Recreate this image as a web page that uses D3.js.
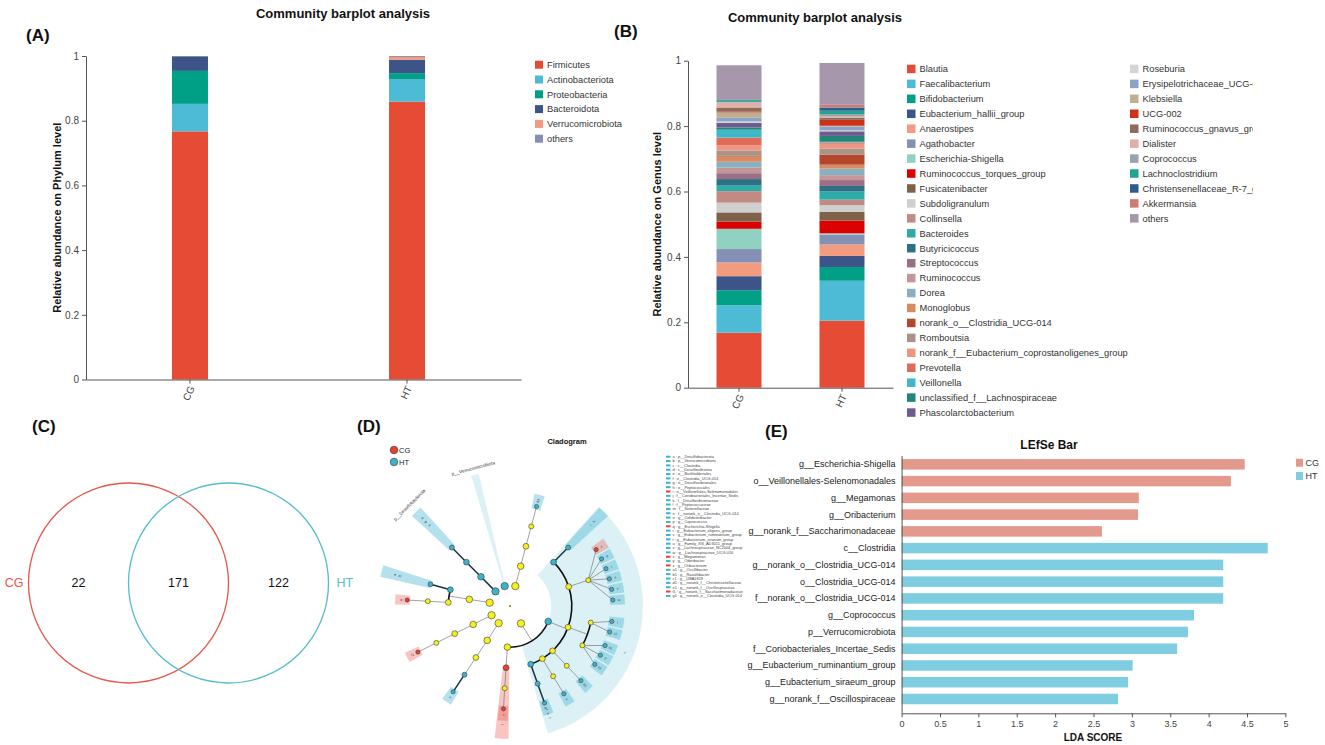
<!DOCTYPE html>
<html>
<head>
<meta charset="utf-8">
<script src="https://cdn.jsdelivr.net/npm/d3@7"></script>
<style>
  body { margin: 0; background: #fff; }
  svg { display: block; font-family: Arial, "Liberation Sans", sans-serif; }
</style>
</head>
<body>
<svg id="fig" width="1325" height="745"></svg>
<script>
// ---- data ----
const groups = ['CG', 'HT']
const yTicks = [0, 0.2, 0.4, 0.6, 0.8, 1]

// (A) phylum level
const phyla = ['Firmicutes', 'Actinobacteriota', 'Proteobacteria', 'Bacteroidota', 'Verrucomicrobiota', 'others']
const phylumCG = [0.767, 0.085, 0.102, 0.045, 0.0003, 0.0007]
const phylumHT = [0.859, 0.070, 0.018, 0.041, 0.009, 0.003]
const phylumColors = ['#e64b35', '#4dbbd5', '#00a087', '#3c5488', '#f39b7f', '#8491b4']

// (B) genus level
const genera = ['Blautia', 'Faecalibacterium', 'Bifidobacterium', 'Eubacterium_hallii_group', 'Anaerostipes',
  'Agathobacter', 'Escherichia-Shigella', 'Ruminococcus_torques_group', 'Fusicatenibacter', 'Subdoligranulum',
  'Collinsella', 'Bacteroides', 'Butyricicoccus', 'Streptococcus', 'Ruminococcus', 'Dorea', 'Monoglobus',
  'norank_o__Clostridia_UCG-014', 'Romboutsia', 'norank_f__Eubacterium_coprostanoligenes_group', 'Prevotella',
  'Veillonella', 'unclassified_f__Lachnospiraceae', 'Phascolarctobacterium', 'Roseburia',
  'Erysipelotrichaceae_UCG-003', 'Klebsiella', 'UCG-002', 'Ruminococcus_gnavus_group', 'Dialister',
  'Coprococcus', 'Lachnoclostridium', 'Christensenellaceae_R-7_group', 'Akkermansia', 'others']
const genusCG = [0.168, 0.084, 0.046, 0.043, 0.042, 0.041, 0.062, 0.022, 0.028, 0.030, 0.035, 0.017, 0.020,
  0.018, 0.017, 0.018, 0.016, 0.002, 0.016, 0.016, 0.024, 0.024, 0.007, 0.014, 0.004, 0.012, 0.016, 0.003,
  0.012, 0.015, 0.002, 0.005, 0.001, 0.000, 0.106]
const genusHT = [0.205, 0.122, 0.042, 0.034, 0.035, 0.030, 0.004, 0.039, 0.027, 0.020, 0.017, 0.025, 0.017,
  0.018, 0.015, 0.020, 0.012, 0.031, 0.018, 0.015, 0.004, 0.002, 0.018, 0.014, 0.003, 0.012, 0.002, 0.018,
  0.006, 0.004, 0.008, 0.010, 0.010, 0.008, 0.128]
const genusColors = ['#e64b35', '#4dbbd5', '#00a087', '#3c5488', '#f39b7f', '#8491b4', '#91d1c2', '#dc0000',
  '#7e6148', '#cfcfcf', '#c18a82', '#30aaa6', '#2b7286', '#9c6f85', '#c4969a', '#88b0c0', '#d98b5f',
  '#b5462e', '#a99488', '#ee9584', '#de6c58', '#3cb8c8', '#21857a', '#6e5a8e', '#d5d5d5', '#8ba3c4',
  '#bfae90', '#cc3217', '#8d6c5b', '#e3aea6', '#97a3ad', '#20a68f', '#2f5d87', '#d07b77', '#a697ab']

// (C) venn
const vennSets = ['CG', 'HT']
const vennOnly = [22, 122]
const vennShared = 171

// (D) cladogram: [taxon, parent, enriched group, key letter]
const cladeNodes = [
  ['root', '', 'none', ''],
  ['p__Actinobacteriota', 'root', 'none', ''],
  ['c__Coriobacteriia', 'p__Actinobacteriota', 'none', ''],
  ['o__Coriobacteriales', 'c__Coriobacteriia', 'none', ''],
  ['f__Eggerthellaceae', 'o__Coriobacteriales', 'none', ''],
  ['g__Raoultibacter', 'f__Eggerthellaceae', 'HT', 'b1'],
  ['p__Firmicutes', 'root', 'none', ''],
  ['c__Clostridia', 'p__Firmicutes', 'HT', 'c'],
  ['o__Peptococcales', 'c__Clostridia', 'HT', 'h'],
  ['f__Peptococcaceae', 'o__Peptococcales', 'HT', 'l'],
  ['o__Lachnospirales', 'c__Clostridia', 'none', ''],
  ['f__Lachnospiraceae', 'o__Lachnospirales', 'none', ''],
  ['g__Oribacterium', 'f__Lachnospiraceae', 'CG', 'z'],
  ['g__Coprococcus', 'f__Lachnospiraceae', 'HT', 'p'],
  ['g__Eubacterium_eligens_group', 'f__Lachnospiraceae', 'HT', 'r'],
  ['g__Eubacterium_ruminantium_group', 'f__Lachnospiraceae', 'HT', 's'],
  ['g__Lachnospiraceae_NC2004_group', 'f__Lachnospiraceae', 'HT', 'v'],
  ['g__Lachnospiraceae_UCG-010', 'f__Lachnospiraceae', 'HT', 'w'],
  ['o__Oscillospirales', 'c__Clostridia', 'none', ''],
  ['f__Ruminococcaceae', 'o__Oscillospirales', 'none', ''],
  ['g__Eubacterium_siraeum_group', 'f__Ruminococcaceae', 'HT', 't'],
  ['g__UBA1819', 'f__Ruminococcaceae', 'HT', 'c1'],
  ['f__Oscillospiraceae', 'o__Oscillospirales', 'none', ''],
  ['g__Oscillibacter', 'f__Oscillospiraceae', 'HT', 'a1'],
  ['g__Colidextribacter', 'f__Oscillospiraceae', 'HT', 'o'],
  ['g__norank_f__Oscillospiraceae', 'f__Oscillospiraceae', 'HT', 'e1'],
  ['o__Christensenellales', 'c__Clostridia', 'none', ''],
  ['f__Christensenellaceae', 'o__Christensenellales', 'none', ''],
  ['g__norank_f__Christensenellaceae', 'f__Christensenellaceae', 'HT', 'd1'],
  ['o__Peptostreptococcales-Tissierellales', 'c__Clostridia', 'none', ''],
  ['f__Anaerovoracaceae', 'o__Peptostreptococcales-Tissierellales', 'none', ''],
  ['g__Family_XIII_AD3011_group', 'f__Anaerovoracaceae', 'HT', 'u'],
  ['o__Clostridia_UCG-014', 'c__Clostridia', 'HT', 'f'],
  ['f__norank_o__Clostridia_UCG-014', 'o__Clostridia_UCG-014', 'HT', 'n'],
  ['g__norank_o__Clostridia_UCG-014', 'f__norank_o__Clostridia_UCG-014', 'HT', 'g1'],
  ['c__Negativicutes', 'p__Firmicutes', 'none', ''],
  ['o__Veillonellales-Selenomonadales', 'c__Negativicutes', 'CG', 'i'],
  ['f__Selenomonadaceae', 'o__Veillonellales-Selenomonadales', 'none', ''],
  ['g__Megamonas', 'f__Selenomonadaceae', 'CG', 'x'],
  ['p__Bacteroidota', 'root', 'none', ''],
  ['c__Bacteroidia', 'p__Bacteroidota', 'none', ''],
  ['o__Bacteroidales', 'c__Bacteroidia', 'none', ''],
  ['f__Marinifilaceae', 'o__Bacteroidales', 'HT', ''],
  ['g__Odoribacter', 'f__Marinifilaceae', 'HT', 'y'],
  ['p__Patescibacteria', 'root', 'none', ''],
  ['c__Saccharimonadia', 'p__Patescibacteria', 'none', ''],
  ['o__Saccharimonadales', 'c__Saccharimonadia', 'none', ''],
  ['f__Saccharimonadaceae', 'o__Saccharimonadales', 'none', ''],
  ['g__norank_f__Saccharimonadaceae', 'f__Saccharimonadaceae', 'CG', 'f1'],
  ['p__Proteobacteria', 'root', 'none', ''],
  ['c__Gammaproteobacteria', 'p__Proteobacteria', 'none', ''],
  ['o__Enterobacterales', 'c__Gammaproteobacteria', 'none', ''],
  ['f__Enterobacteriaceae', 'o__Enterobacterales', 'none', ''],
  ['g__Escherichia-Shigella', 'f__Enterobacteriaceae', 'CG', 'q'],
  ['o__Burkholderiales', 'c__Gammaproteobacteria', 'HT', 'e'],
  ['f__Sutterellaceae', 'o__Burkholderiales', 'HT', 'm'],
  ['p__Desulfobacterota', 'root', 'HT', 'a'],
  ['c__Desulfovibrionia', 'p__Desulfobacterota', 'HT', 'd'],
  ['o__Desulfovibrionales', 'c__Desulfovibrionia', 'HT', 'g'],
  ['f__Desulfovibrionaceae', 'o__Desulfovibrionales', 'HT', 'k'],
  ['p__Verrucomicrobiota', 'root', 'HT', 'b']
]
// key list printed beside the cladogram
const cladeKeyLetters = ['a', 'b', 'c', 'd', 'e', 'f', 'g', 'h', 'i', 'j', 'k', 'l', 'm', 'n', 'o', 'p', 'q',
  'r', 's', 't', 'u', 'v', 'w', 'x', 'y', 'z', 'a1', 'b1', 'c1', 'd1', 'e1', 'f1', 'g1']
const cladeKeyTaxa = ['p__Desulfobacterota', 'p__Verrucomicrobiota', 'c__Clostridia', 'c__Desulfovibrionia',
  'o__Burkholderiales', 'o__Clostridia_UCG-014', 'o__Desulfovibrionales', 'o__Peptococcales',
  'o__Veillonellales-Selenomonadales', 'f__Coriobacteriales_Incertae_Sedis', 'f__Desulfovibrionaceae',
  'f__Peptococcaceae', 'f__Sutterellaceae', 'f__norank_o__Clostridia_UCG-014', 'g__Colidextribacter',
  'g__Coprococcus', 'g__Escherichia-Shigella', 'g__Eubacterium_eligens_group', 'g__Eubacterium_ruminantium_group',
  'g__Eubacterium_siraeum_group', 'g__Family_XIII_AD3011_group', 'g__Lachnospiraceae_NC2004_group',
  'g__Lachnospiraceae_UCG-010', 'g__Megamonas', 'g__Odoribacter', 'g__Oribacterium', 'g__Oscillibacter',
  'g__Raoultibacter', 'g__UBA1819', 'g__norank_f__Christensenellaceae', 'g__norank_f__Oscillospiraceae',
  'g__norank_f__Saccharimonadaceae', 'g__norank_o__Clostridia_UCG-014']
const cladeKeyGroup = ['HT', 'HT', 'HT', 'HT', 'HT', 'HT', 'HT', 'HT', 'CG', 'HT', 'HT', 'HT', 'HT', 'HT', 'HT',
  'HT', 'CG', 'HT', 'HT', 'HT', 'HT', 'HT', 'HT', 'CG', 'HT', 'CG', 'HT', 'HT', 'HT', 'HT', 'HT', 'CG', 'HT']

// (E) LEfSe
const lefseTaxa = ['g__Escherichia-Shigella', 'o__Veillonellales-Selenomonadales', 'g__Megamonas',
  'g__Oribacterium', 'g__norank_f__Saccharimonadaceae', 'c__Clostridia', 'g__norank_o__Clostridia_UCG-014',
  'o__Clostridia_UCG-014', 'f__norank_o__Clostridia_UCG-014', 'g__Coprococcus', 'p__Verrucomicrobiota',
  'f__Coriobacteriales_Incertae_Sedis', 'g__Eubacterium_ruminantium_group', 'g__Eubacterium_siraeum_group',
  'g__norank_f__Oscillospiraceae']
const lefseLDA = [4.47, 4.29, 3.09, 3.08, 2.61, 4.77, 4.19, 4.19, 4.19, 3.81, 3.73, 3.59, 3.01, 2.95, 2.82]
const lefseGroup = ['CG', 'CG', 'CG', 'CG', 'CG', 'HT', 'HT', 'HT', 'HT', 'HT', 'HT', 'HT', 'HT', 'HT', 'HT']
const ldaTicks = [0, 0.5, 1, 1.5, 2, 2.5, 3, 3.5, 4, 4.5, 5]

// ---- helpers ----
const svg = d3.select('#fig')
const groupColor = { CG: '#e8412f', HT: '#3db2cd', none: '#f5f01e' }

function panelLetter(txt, x, y) {
  svg.append('text').attr('x', x).attr('y', y)
    .attr('font-size', 17).attr('font-weight', 'bold').attr('fill', '#111').text(txt)
}

function styleAxis(g, size) {
  g.attr('font-family', null).attr('font-size', null)
  g.selectAll('path,line').attr('stroke', '#555')
  g.selectAll('text').attr('fill', '#444').attr('font-size', size || 10)
}

function drawStack(g, names, byGroup, colors, x, y) {
  // table for d3.stack, one row per sample group
  const rows = groups.map((grp, gi) => {
    const row = { group: grp }
    names.forEach((n, i) => { row[n] = byGroup[gi][i] })
    return row
  })
  const series = d3.stack().keys(names)(rows)
  g.selectAll('g.layer').data(series).join('g')
    .attr('class', 'layer')
    .attr('fill', (d, i) => colors[i])
    .selectAll('rect').data(d => d).join('rect')
    .attr('x', d => x(d.data.group))
    .attr('width', x.bandwidth())
    .attr('y', d => y(d[1]))
    .attr('height', d => Math.max(0, y(d[0]) - y(d[1])))
}

function barAxes(x, y, x0, y0, label, labelX) {
  const ya = svg.append('g').attr('transform', `translate(${x0},0)`)
    .call(d3.axisLeft(y).tickValues(yTicks).tickSize(4).tickSizeOuter(0).tickFormat(d3.format('~g')))
  styleAxis(ya)
  const xa = svg.append('g').attr('transform', `translate(0,${y0})`)
    .call(d3.axisBottom(x).tickSize(4).tickSizeOuter(0))
  styleAxis(xa)
  xa.selectAll('text')
    .attr('x', 0).attr('y', 0).attr('dy', '0.35em')
    .attr('text-anchor', 'end')
    .attr('transform', 'translate(2,7) rotate(-65)')
  svg.append('text')
    .attr('transform', `translate(${labelX},${(y.range()[0] + y.range()[1]) / 2}) rotate(-90)`)
    .attr('text-anchor', 'middle').attr('font-size', 11).attr('font-weight', 'bold').attr('fill', '#111')
    .text(label)
}

function title(txt, x, y, size) {
  svg.append('text').attr('x', x).attr('y', y).attr('text-anchor', 'middle')
    .attr('font-size', size).attr('font-weight', 'bold').attr('fill', '#111').text(txt)
}

// ---- (A) phylum barplot ----
title('Community barplot analysis', 343, 18, 13)
panelLetter('(A)', 26, 41)
const xA = d3.scaleBand().domain(groups).range([86, 521])
  .paddingInner(0.834).paddingOuter(0.419).align(0.4725)
const yA = d3.scaleLinear().domain([0, 1]).range([379.5, 56])
drawStack(svg.append('g'), phyla, [phylumCG, phylumHT], phylumColors, xA, yA)
barAxes(xA, yA, 86, 379.5, 'Relative abundance on Phylum level', 61)

const legA = svg.append('g').selectAll('g').data(phyla).join('g')
  .attr('transform', (d, i) => `translate(535,${64.7 + i * 14.8})`)
legA.append('rect').attr('x', 0).attr('y', -4).attr('width', 8).attr('height', 8)
  .attr('fill', (d, i) => phylumColors[i])
legA.append('text').attr('x', 12).attr('dy', '0.35em').attr('font-size', 9.3).attr('fill', '#333').text(d => d)

// ---- (B) genus barplot ----
title('Community barplot analysis', 815, 22, 13)
panelLetter('(B)', 614, 37)
const xB = d3.scaleBand().domain(groups).range([688, 893])
  .paddingInner(0.563).paddingOuter(0.2767).align(0.5)
const yB = d3.scaleLinear().domain([0, 1]).range([387.7, 60.7])
drawStack(svg.append('g'), genera, [genusCG, genusHT], genusColors, xB, yB)
barAxes(xB, yB, 688, 387.7, 'Relative abundance on Genus level', 661)

svg.append('clipPath').attr('id', 'legClip')
  .append('rect').attr('x', 880).attr('y', 40).attr('width', 373).attr('height', 400)
const perCol = 24
const legB = svg.append('g').attr('clip-path', 'url(#legClip)')
  .selectAll('g').data(genera).join('g')
  .attr('transform', (d, i) => {
    const col = i < perCol ? 0 : 1
    const row = i < perCol ? i : i - perCol
    return `translate(${col ? 1130 : 907},${69 + row * 14.94})`
  })
legB.append('rect').attr('x', 0).attr('y', -4.3).attr('width', 8.5).attr('height', 8.5)
  .attr('fill', (d, i) => genusColors[i])
legB.append('text').attr('x', 12.5).attr('dy', '0.35em').attr('font-size', 9.3).attr('fill', '#333').text(d => d)

// ---- (C) venn ----
panelLetter('(C)', 32, 432)
const vennX = d3.scaleLinear().domain([-1, 1]).range([78.5, 278.5])
const vennR = 100
const vennCy = 583
const vennColor = ['#e5574b', '#54bccb']
svg.append('g').selectAll('circle').data(vennSets).join('circle')
  .attr('cx', (d, i) => vennX(i ? 0.5 : -0.5)).attr('cy', vennCy).attr('r', vennR)
  .attr('fill', 'none').attr('stroke', (d, i) => vennColor[i]).attr('stroke-width', 1.3)
const vennNums = [vennOnly[0], vennShared, vennOnly[1]]
svg.append('g').selectAll('text').data(vennNums).join('text')
  .attr('x', (d, i) => vennX(i - 1)).attr('y', vennCy).attr('dy', '0.35em')
  .attr('text-anchor', 'middle').attr('font-size', 12.5).attr('fill', '#111').text(d => d)
svg.append('g').selectAll('text').data(vennSets).join('text')
  .attr('x', (d, i) => i ? vennX(0.5) + vennR + 8 : vennX(-0.5) - vennR - 5)
  .attr('y', vennCy).attr('dy', '0.35em')
  .attr('text-anchor', (d, i) => i ? 'start' : 'end')
  .attr('font-size', 12.5).attr('fill', (d, i) => vennColor[i]).text(d => d)

// ---- (D) cladogram ----
panelLetter('(D)', 357, 432)
title('Cladogram', 567, 444, 7.5)
const cx = 510, cy = 606
const levelR = d3.scaleLinear().domain([0, 5]).range([0, 103])
const nodeR = d3.scaleLinear().domain([1, 5]).range([3.7, 2.1])
const outerR = 133
const cladeGaps = [4.5, 3.5, 1.8, 1.2, 0.9]
function cladeSep(a, b) {
  const up = new Set(a.ancestors())
  const lca = b.ancestors().find(n => up.has(n))
  return cladeGaps[Math.min(lca.depth, cladeGaps.length - 1)]
}
const tree = d3.stratify().id(d => d[0]).parentId(d => d[1] || null)(cladeNodes)
d3.cluster().size([360, 1]).separation(cladeSep)(tree)
const rad = deg => deg * Math.PI / 180
const px = (deg, r) => cx + r * Math.sin(rad(deg))
const py = (deg, r) => cy - r * Math.cos(rad(deg))
const sig = n => n.data[2] !== 'none'

const gD = svg.append('g')
// clade shading: only for clades whose descendants are not all enriched themselves
const bandArc = d3.arc()
const bands = tree.descendants()
  .filter(n => n.depth > 0 && sig(n) && (!n.children || !n.children.every(sig)))
gD.append('g').selectAll('path').data(bands).join('path')
  .attr('transform', `translate(${cx},${cy})`)
  .attr('d', n => {
    const xs = n.leaves().map(l => l.x)
    const leafGenus = !n.children && n.depth === 5
    const pad = n.children ? 3 : (n.depth === 1 ? 1.6 : 2.6)
    return bandArc({
      innerRadius: levelR(n.depth) - (leafGenus ? 3 : 0),
      outerRadius: leafGenus ? levelR(n.depth) + 12 : outerR + (n.depth === 1 ? 3 : 0),
      startAngle: rad(d3.min(xs) - pad),
      endAngle: rad(d3.max(xs) + pad)
    })
  })
  .attr('fill', n => n.data[2] === 'CG' ? '#ea5a4c' : '#4db8d4')
  .attr('fill-opacity', n => n.data[2] === 'CG' ? 0.35 : (n.children || n.depth === 1 ? 0.2 : 0.42))

// branches
const edges = gD.append('g').attr('fill', 'none')
const dark = '#163340', grey = '#7a7a7a'
tree.descendants().forEach(n => {
  if (!n.children || n.depth === 0) return
  const r0 = levelR(n.depth), r1 = levelR(n.depth + 1)
  const allSig = sig(n) && n.children.every(sig)
  if (n.depth >= 4) {
    n.children.forEach(c => {
      edges.append('line')
        .attr('x1', px(n.x, r0)).attr('y1', py(n.x, r0))
        .attr('x2', px(c.x, r1)).attr('y2', py(c.x, r1))
        .attr('stroke', sig(c) && sig(n) ? dark : grey).attr('stroke-width', sig(c) && sig(n) ? 1.5 : 0.7)
    })
    return
  }
  edges.append('line')
    .attr('x1', px(n.x, r0)).attr('y1', py(n.x, r0))
    .attr('x2', px(n.x, r1)).attr('y2', py(n.x, r1))
    .attr('stroke', allSig ? dark : grey).attr('stroke-width', allSig ? 1.5 : 0.7)
  if (n.children.length > 1) {
    const xs = n.children.map(c => c.x)
    const p = d3.path()
    p.arc(cx, cy, r1, rad(d3.min(xs)) - Math.PI / 2, rad(d3.max(xs)) - Math.PI / 2)
    edges.append('path').attr('d', p.toString()).attr('stroke', '#111').attr('stroke-width', 1.6)
  }
})

// nodes
gD.append('circle').attr('cx', cx).attr('cy', cy).attr('r', 1.1).attr('fill', '#8a8a10')
gD.append('g').selectAll('circle').data(tree.descendants().filter(n => n.depth > 0)).join('circle')
  .attr('cx', n => px(n.x, levelR(n.depth))).attr('cy', n => py(n.x, levelR(n.depth)))
  .attr('r', n => nodeR(n.depth))
  .attr('fill', n => groupColor[n.data[2]])
  .attr('stroke', '#3a3a3a').attr('stroke-width', 0.6)

// letters and phylum names
const labelled = tree.descendants().filter(n => n.depth > 0 && n.data[3])
gD.append('g').selectAll('text').data(labelled.filter(n => n.depth > 1)).join('text')
  .attr('transform', n => {
    const r = levelR(5) + 6 + (5 - n.depth) * 5
    const rot = n.x < 180 ? n.x - 90 : n.x + 90
    return `translate(${px(n.x, r)},${py(n.x, r)}) rotate(${rot})`
  })
  .attr('text-anchor', 'middle').attr('dy', '0.35em').attr('font-size', 3.4).attr('fill', '#333')
  .text(n => n.data[3])
gD.append('g').selectAll('text').data(labelled.filter(n => n.depth === 1)).join('text')
  .attr('transform', n => {
    const r = outerR + 8
    const rot = n.x > 180 ? n.x - 360 : n.x
    return `translate(${px(n.x, r)},${py(n.x, r)}) rotate(${rot})`
  })
  .attr('text-anchor', 'middle').attr('font-size', 4.6).attr('fill', '#333')
  .text(n => n.data[0])

// group legend
const legD = svg.append('g').selectAll('g').data(groups).join('g')
  .attr('transform', (d, i) => `translate(394,${450 + i * 12})`)
legD.append('circle').attr('r', 3.8).attr('fill', d => groupColor[d]).attr('stroke', '#333').attr('stroke-width', 0.6)
legD.append('text').attr('x', 5).attr('dy', '0.35em').attr('font-size', 7.5).attr('fill', '#222').text(d => d)

// letter key
const keyD = svg.append('g').selectAll('g').data(cladeKeyLetters).join('g')
  .attr('transform', (d, i) => `translate(666,${456.7 + i * 4.35})`)
keyD.append('rect').attr('x', 0).attr('y', -1).attr('width', 4.5).attr('height', 2)
  .attr('fill', (d, i) => groupColor[cladeKeyGroup[i]])
keyD.append('text').attr('x', 6.5).attr('dy', '0.35em').attr('font-size', 3.9).attr('fill', '#444')
  .text((d, i) => `${d} : ${cladeKeyTaxa[i]}`)

// ---- (E) LEfSe bar ----
panelLetter('(E)', 765, 437)
title('LEfSe Bar', 1049, 449, 12)
const barColor = { CG: '#e39a8c', HT: '#7ecde0' }
const yE = d3.scaleBand().domain(lefseTaxa).range([455.5, 713])
  .paddingInner(0.373).paddingOuter(0.368).align(0.29)
const xE = d3.scaleLinear().domain([0, 5]).range([901.6, 1285.4])
svg.append('g').selectAll('rect').data(lefseTaxa).join('rect')
  .attr('x', xE(0)).attr('y', d => yE(d))
  .attr('width', (d, i) => xE(lefseLDA[i]) - xE(0)).attr('height', yE.bandwidth())
  .attr('fill', (d, i) => barColor[lefseGroup[i]])
const yaE = svg.append('g').attr('transform', `translate(${xE(0)},0)`)
  .call(d3.axisLeft(yE).tickSize(0).tickPadding(6))
styleAxis(yaE, 9)
yaE.selectAll('text').attr('fill', '#222')
const xaE = svg.append('g').attr('transform', 'translate(0,713.3)')
  .call(d3.axisBottom(xE).tickValues(ldaTicks).tickSize(4).tickSizeOuter(0).tickFormat(d3.format('~g')))
styleAxis(xaE, 9)
svg.append('text').attr('x', 1093).attr('y', 741).attr('text-anchor', 'middle')
  .attr('font-size', 10).attr('font-weight', 'bold').attr('fill', '#111').text('LDA SCORE')
const legE = svg.append('g').selectAll('g').data(groups).join('g')
  .attr('transform', (d, i) => `translate(1296,${462.7 + i * 13.3})`)
legE.append('rect').attr('y', -4).attr('width', 7).attr('height', 8).attr('fill', d => barColor[d])
legE.append('text').attr('x', 9.5).attr('dy', '0.35em').attr('font-size', 9).attr('fill', '#333').text(d => d)
</script>
</body>
</html>
